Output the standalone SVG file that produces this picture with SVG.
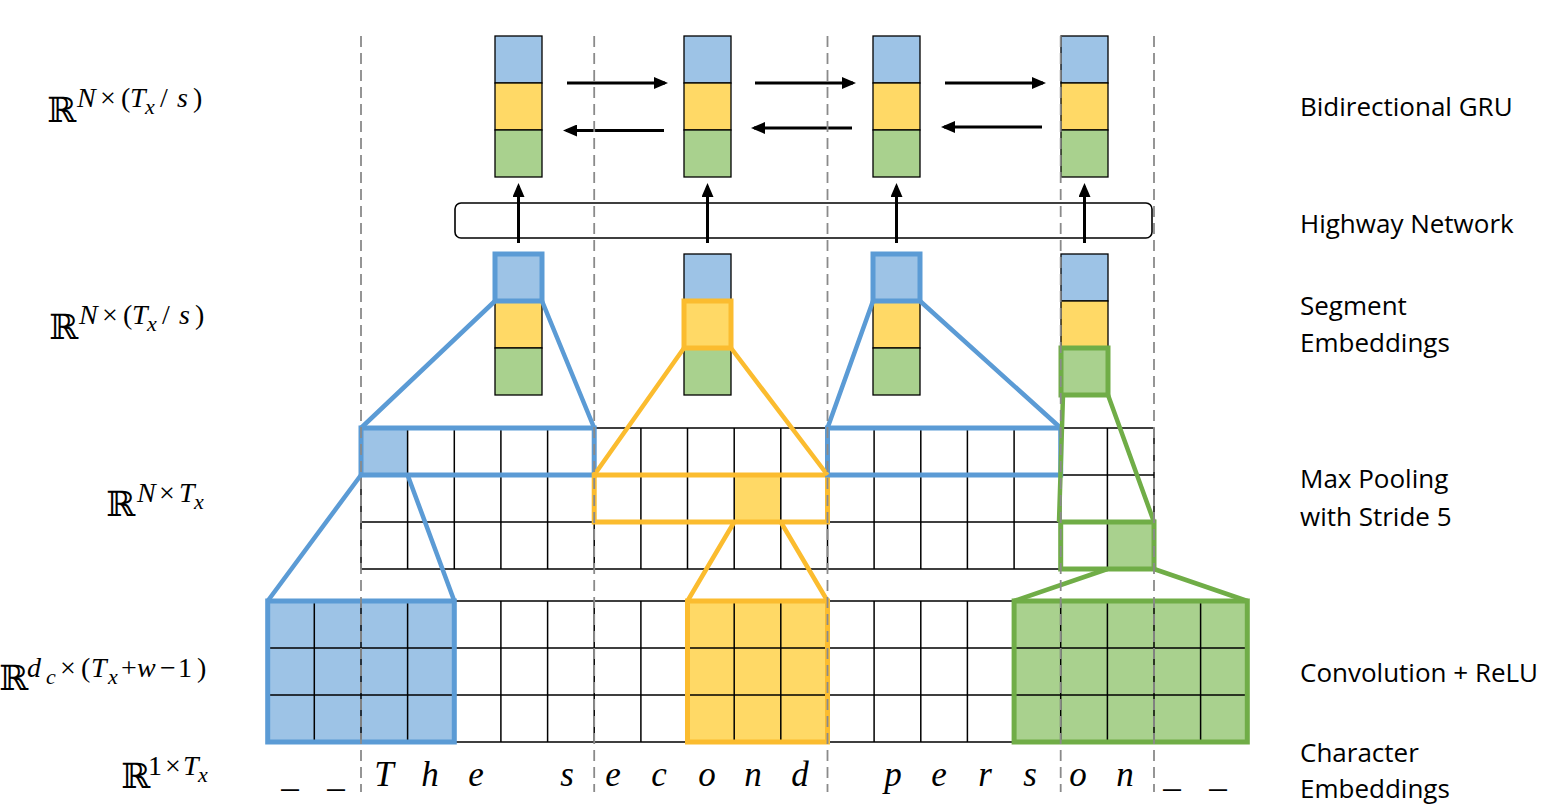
<svg xmlns="http://www.w3.org/2000/svg" width="1544" height="812" viewBox="0 0 1544 812">
<style>
.cb{fill:#9DC3E6}.cy{fill:#FFD966}.cg{fill:#A9D18E}
.cell{stroke:#000;stroke-width:1.3}
.grid{stroke:#000;stroke-width:1.5;fill:none}
.bb{fill:none;stroke:#5B9BD5;stroke-width:5}
.by{fill:none;stroke:#FBBC2F;stroke-width:5}
.bg{fill:none;stroke:#70AD47;stroke-width:5}
.lb{stroke:#5B9BD5;stroke-width:4.5;fill:none}
.ly{stroke:#FBBC2F;stroke-width:4.5;fill:none}
.lg{stroke:#70AD47;stroke-width:4.5;fill:none}
.dash{stroke:#8A8A8A;stroke-width:1.8;stroke-dasharray:11 6;fill:none}
.arr{stroke:#000;stroke-width:3;fill:none}
.m{font-family:"Liberation Serif","DejaVu Serif",serif;fill:#000;font-size:28px}
.mi{font-style:italic}
.sb{font-size:22px}
.R{font-family:"DejaVu Serif","Liberation Serif",serif;font-size:35px}
.lab{font-family:"Open Sans","Lato",sans-serif;font-size:26px;fill:#000}
.ch{font-family:"Liberation Serif",serif;font-style:italic;font-size:35px;text-anchor:middle;fill:#000}
</style>
<defs>
<marker id="ah" markerWidth="14" markerHeight="12" refX="11" refY="6" orient="auto" markerUnits="userSpaceOnUse" viewBox="0 0 14 12">
<path d="M0,0 L14,6 L0,12 Z" fill="#000"/>
</marker>
</defs>
<rect width="1544" height="812" fill="#fff"/>

<!-- Character embedding / convolution grid -->
<g id="conv-grid">
<rect x="267.7" y="601" width="186.6" height="141" class="cb"/>
<rect x="687.5" y="601" width="140" height="141" class="cy"/>
<rect x="1014.1" y="601" width="233.2" height="141" class="cg"/>
<path class="grid" d="M267.7,601H1247.3M267.7,648H1247.3M267.7,695H1247.3M267.7,742H1247.3
M267.7,601V742M314.3,601V742M361,601V742M407.6,601V742M454.3,601V742M500.9,601V742M547.6,601V742M594.2,601V742M640.9,601V742M687.5,601V742M734.2,601V742M780.8,601V742M827.5,601V742M874.1,601V742M920.8,601V742M967.4,601V742M1014.1,601V742M1060.7,601V742M1107.4,601V742M1154,601V742M1200.6,601V742M1247.3,601V742"/>
<rect x="267.7" y="601" width="186.6" height="141" class="bb"/>
<rect x="687.5" y="601" width="140" height="141" class="by"/>
<rect x="1014.1" y="601" width="233.2" height="141" class="bg"/>
</g>

<!-- Max pooling grid -->
<g id="pool-grid">
<rect x="361" y="428" width="46.6" height="47" class="cb"/>
<rect x="734.2" y="475" width="46.6" height="47" class="cy"/>
<rect x="1107.4" y="522" width="46.6" height="47" class="cg"/>
<path class="grid" d="M361,428H1154M361,475H1154M361,522H1154M361,569H1154
M361,428V569M407.6,428V569M454.3,428V569M500.9,428V569M547.6,428V569M594.2,428V569M640.9,428V569M687.5,428V569M734.2,428V569M780.8,428V569M827.5,428V569M874.1,428V569M920.8,428V569M967.4,428V569M1014.1,428V569M1060.7,428V569M1107.4,428V569M1154,428V569"/>
<rect x="361" y="428" width="233.2" height="47" class="bb"/>
<rect x="594.2" y="475" width="233.3" height="47" class="by"/>
<rect x="827.5" y="428" width="233.2" height="47" class="bb"/>
<rect x="1060.7" y="522" width="93.3" height="47" class="bg"/>
</g>

<!-- Segment embeddings -->
<g id="seg1">
<rect x="495" y="254" width="47" height="47" class="cb cell"/>
<rect x="495" y="301" width="47" height="47" class="cy cell"/>
<rect x="495" y="348" width="47" height="47" class="cg cell"/>
<rect x="495" y="254" width="47" height="47" class="bb"/>
</g>
<g id="seg2">
<rect x="684" y="254" width="47" height="47" class="cb cell"/>
<rect x="684" y="301" width="47" height="47" class="cy cell"/>
<rect x="684" y="348" width="47" height="47" class="cg cell"/>
<rect x="684" y="301" width="47" height="47" class="by"/>
</g>
<g id="seg3">
<rect x="873" y="254" width="47" height="47" class="cb cell"/>
<rect x="873" y="301" width="47" height="47" class="cy cell"/>
<rect x="873" y="348" width="47" height="47" class="cg cell"/>
<rect x="873" y="254" width="47" height="47" class="bb"/>
</g>
<g id="seg4">
<rect x="1061" y="254" width="47" height="47" class="cb cell"/>
<rect x="1061" y="301" width="47" height="47" class="cy cell"/>
<rect x="1061" y="348" width="47" height="47" class="cg cell"/>
<rect x="1061" y="348" width="47" height="47" class="bg"/>
</g>

<!-- Highway network -->
<g id="highway">
<rect x="455" y="203" width="697" height="35" rx="6" fill="none" stroke="#000" stroke-width="1.6"/>
</g>

<!-- GRU cells -->
<g id="gru1">
<rect x="495" y="36" width="47" height="47" class="cb cell"/>
<rect x="495" y="83" width="47" height="47" class="cy cell"/>
<rect x="495" y="130" width="47" height="47" class="cg cell"/>
</g>
<g id="gru2">
<rect x="684" y="36" width="47" height="47" class="cb cell"/>
<rect x="684" y="83" width="47" height="47" class="cy cell"/>
<rect x="684" y="130" width="47" height="47" class="cg cell"/>
</g>
<g id="gru3">
<rect x="873" y="36" width="47" height="47" class="cb cell"/>
<rect x="873" y="83" width="47" height="47" class="cy cell"/>
<rect x="873" y="130" width="47" height="47" class="cg cell"/>
</g>
<g id="gru4">
<rect x="1061" y="36" width="47" height="47" class="cb cell"/>
<rect x="1061" y="83" width="47" height="47" class="cy cell"/>
<rect x="1061" y="130" width="47" height="47" class="cg cell"/>
</g>

<!-- Connectors -->
<g id="connectors">
<path class="lb" d="M495,301L361,428M542,301L594.2,428"/>
<path class="lb" d="M361,475L267.7,601M407.6,475L454.3,601"/>
<path class="ly" d="M684,348L594.2,475M731,348L827.5,475"/>
<path class="ly" d="M734.2,522L687.5,601M780.8,522L827.5,601"/>
<path class="lb" d="M873,301L827.5,428M920,301L1060.7,428"/>
<path class="lg" d="M1063,395L1059,522M1108,395L1154,522"/>
<path class="lg" d="M1107.4,569L1014.1,601M1154,569L1247.3,601"/>
<line class="arr" x1="518.5" y1="243" x2="518.5" y2="186" marker-end="url(#ah)"/>
<line class="arr" x1="707.5" y1="243" x2="707.5" y2="186" marker-end="url(#ah)"/>
<line class="arr" x1="896.5" y1="243" x2="896.5" y2="186" marker-end="url(#ah)"/>
<line class="arr" x1="1084.5" y1="243" x2="1084.5" y2="186" marker-end="url(#ah)"/>
<line class="arr" x1="567" y1="83" x2="665" y2="83" marker-end="url(#ah)"/>
<line class="arr" x1="664" y1="130.5" x2="566" y2="130.5" marker-end="url(#ah)"/>
<line class="arr" x1="755" y1="83" x2="853" y2="83" marker-end="url(#ah)"/>
<line class="arr" x1="852" y1="128" x2="754" y2="128" marker-end="url(#ah)"/>
<line class="arr" x1="945" y1="83" x2="1043" y2="83" marker-end="url(#ah)"/>
<line class="arr" x1="1042" y1="127" x2="944" y2="127" marker-end="url(#ah)"/>
</g>

<!-- Dashed segment boundaries -->
<g id="boundaries">
<path class="dash" d="M361,36V792M594.2,36V792M827.5,36V792M1060.7,36V792M1154,36V792"/>
</g>

<!-- Characters -->
<g id="chars">
<text class="ch" x="290" y="786">_</text>
<text class="ch" x="336" y="786">_</text>
<text class="ch" x="384" y="786">T</text>
<text class="ch" x="430" y="786">h</text>
<text class="ch" x="476" y="786">e</text>
<text class="ch" x="567" y="786">s</text>
<text class="ch" x="613" y="786">e</text>
<text class="ch" x="659" y="786">c</text>
<text class="ch" x="707" y="786">o</text>
<text class="ch" x="753" y="786">n</text>
<text class="ch" x="800" y="786">d</text>
<text class="ch" x="893" y="786">p</text>
<text class="ch" x="939" y="786">e</text>
<text class="ch" x="985" y="786">r</text>
<text class="ch" x="1030" y="786">s</text>
<text class="ch" x="1078" y="786">o</text>
<text class="ch" x="1125" y="786">n</text>
<text class="ch" x="1172" y="786">_</text>
<text class="ch" x="1218" y="786">_</text>
</g>

<!-- Dimension labels -->
<g id="dims">
<text class="R" x="47" y="122">ℝ</text>
<text class="m"><tspan class="mi" x="77" y="107">N</tspan><tspan x="100" y="107">×</tspan><tspan x="121" y="107">(</tspan><tspan class="mi" x="130" y="107">T</tspan><tspan class="mi sb" x="145" y="114">x</tspan><tspan x="160" y="107">/</tspan><tspan class="mi" x="177" y="107">s</tspan><tspan x="193" y="107">)</tspan></text>

<text class="R" x="49" y="339">ℝ</text>
<text class="m"><tspan class="mi" x="79" y="324">N</tspan><tspan x="102" y="324">×</tspan><tspan x="123" y="324">(</tspan><tspan class="mi" x="132" y="324">T</tspan><tspan class="mi sb" x="147" y="331">x</tspan><tspan x="162" y="324">/</tspan><tspan class="mi" x="179" y="324">s</tspan><tspan x="195" y="324">)</tspan></text>

<text class="R" x="106" y="516">ℝ</text>
<text class="m"><tspan class="mi" x="137" y="502">N</tspan><tspan x="159" y="502">×</tspan><tspan class="mi" x="179" y="502">T</tspan><tspan class="mi sb" x="194" y="509">x</tspan></text>

<text class="R" x="-1" y="690">ℝ</text>
<text class="m"><tspan class="mi" x="27" y="677">d</tspan><tspan class="mi sb" x="46" y="684">c</tspan><tspan x="60" y="677">×</tspan><tspan x="81" y="677">(</tspan><tspan class="mi" x="91" y="677">T</tspan><tspan class="mi sb" x="108" y="684">x</tspan><tspan x="121" y="677">+</tspan><tspan class="mi" x="137" y="677">w</tspan><tspan x="160" y="677">−</tspan><tspan x="178" y="677">1</tspan><tspan x="197" y="677">)</tspan></text>

<text class="R" x="121" y="788">ℝ</text>
<text class="m"><tspan x="148" y="775">1</tspan><tspan x="165" y="775">×</tspan><tspan class="mi" x="183" y="775">T</tspan><tspan class="mi sb" x="198" y="782">x</tspan></text>
</g>

<!-- Layer names -->
<g id="layer-names">
<text class="lab" x="1300" y="116">Bidirectional GRU</text>
<text class="lab" x="1300" y="233">Highway Network</text>
<text class="lab" x="1300" y="315">Segment</text>
<text class="lab" x="1300" y="352">Embeddings</text>
<text class="lab" x="1300" y="488">Max Pooling</text>
<text class="lab" x="1300" y="526">with Stride 5</text>
<text class="lab" x="1300" y="682">Convolution + ReLU</text>
<text class="lab" x="1300" y="762">Character</text>
<text class="lab" x="1300" y="798">Embeddings</text>
</g>
</svg>
